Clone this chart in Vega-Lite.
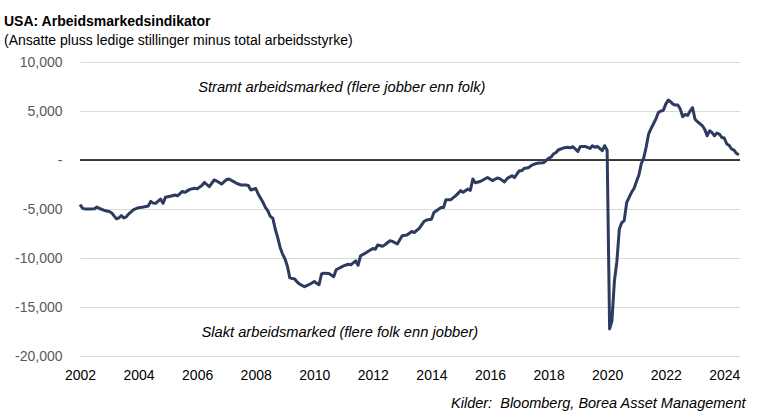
{
  "$schema": "https://vega.github.io/schema/vega-lite/v6.json",
  "width": 660,
  "height": 294,
  "autosize": {"type": "none"},
  "padding": {"left": 80, "top": 62, "right": 17, "bottom": 59},
  "background": "white",
  "config": {
    "font": "Liberation Sans",
    "view": {"stroke": null}
  },
  "title": {
    "text": "USA: Arbeidsmarkedsindikator",
    "subtitle": "(Ansatte pluss ledige stillinger minus total arbeidsstyrke)",
    "anchor": "start",
    "frame": "group",
    "dx": -76,
    "offset": 7,
    "fontSize": 14,
    "fontWeight": "bold",
    "color": "#000000",
    "subtitleFontSize": 14,
    "subtitleColor": "#000000",
    "subtitlePadding": 5
  },
  "layer": [
    {
      "data": {"values": [{"z": 0}]},
      "mark": {"type": "rule", "color": "#000000", "strokeWidth": 1.3},
      "encoding": {"y": {"field": "z", "type": "quantitative"}}
    },
    {
      "data": {
        "values": [
          {"d": "2002-01", "v": -4560}, {"d": "2002-02", "v": -4900}, {"d": "2002-03", "v": -5000},
          {"d": "2002-05", "v": -5000}, {"d": "2002-07", "v": -4980}, {"d": "2002-08", "v": -4800},
          {"d": "2002-09", "v": -4950}, {"d": "2002-11", "v": -5150}, {"d": "2003-01", "v": -5250},
          {"d": "2003-02", "v": -5400}, {"d": "2003-03", "v": -5700}, {"d": "2003-04", "v": -6000},
          {"d": "2003-05", "v": -5900}, {"d": "2003-06", "v": -5680}, {"d": "2003-07", "v": -5920},
          {"d": "2003-08", "v": -5800}, {"d": "2003-09", "v": -5500}, {"d": "2003-11", "v": -5070},
          {"d": "2004-01", "v": -4870}, {"d": "2004-03", "v": -4800}, {"d": "2004-05", "v": -4700},
          {"d": "2004-06", "v": -4220}, {"d": "2004-07", "v": -4400}, {"d": "2004-08", "v": -4420},
          {"d": "2004-10", "v": -3980}, {"d": "2004-11", "v": -4420}, {"d": "2004-12", "v": -3810},
          {"d": "2005-02", "v": -3700}, {"d": "2005-04", "v": -3570}, {"d": "2005-05", "v": -3650},
          {"d": "2005-07", "v": -3200}, {"d": "2005-08", "v": -3300}, {"d": "2005-10", "v": -3000},
          {"d": "2005-12", "v": -2890}, {"d": "2006-01", "v": -2950}, {"d": "2006-03", "v": -2600},
          {"d": "2006-04", "v": -2280}, {"d": "2006-05", "v": -2500}, {"d": "2006-06", "v": -2720},
          {"d": "2006-08", "v": -2040}, {"d": "2006-09", "v": -2150}, {"d": "2006-11", "v": -2450},
          {"d": "2007-01", "v": -2010}, {"d": "2007-02", "v": -1940}, {"d": "2007-04", "v": -2200},
          {"d": "2007-05", "v": -2350}, {"d": "2007-07", "v": -2550}, {"d": "2007-09", "v": -2550},
          {"d": "2007-10", "v": -2600}, {"d": "2007-11", "v": -3060}, {"d": "2008-01", "v": -2900},
          {"d": "2008-02", "v": -3470}, {"d": "2008-04", "v": -4320}, {"d": "2008-05", "v": -4840},
          {"d": "2008-06", "v": -5200}, {"d": "2008-07", "v": -5750}, {"d": "2008-08", "v": -5930},
          {"d": "2008-09", "v": -7040}, {"d": "2008-10", "v": -7900}, {"d": "2008-11", "v": -8920},
          {"d": "2008-12", "v": -9600}, {"d": "2009-01", "v": -10100}, {"d": "2009-02", "v": -10890},
          {"d": "2009-03", "v": -12000}, {"d": "2009-04", "v": -12100}, {"d": "2009-05", "v": -12140},
          {"d": "2009-06", "v": -12450}, {"d": "2009-07", "v": -12650}, {"d": "2009-08", "v": -12800},
          {"d": "2009-09", "v": -12930}, {"d": "2009-11", "v": -12700}, {"d": "2010-01", "v": -12400},
          {"d": "2010-02", "v": -12600}, {"d": "2010-03", "v": -12730}, {"d": "2010-04", "v": -11630},
          {"d": "2010-05", "v": -11550}, {"d": "2010-07", "v": -11570}, {"d": "2010-09", "v": -11900},
          {"d": "2010-10", "v": -11200}, {"d": "2011-01", "v": -10800}, {"d": "2011-03", "v": -10640},
          {"d": "2011-04", "v": -10700}, {"d": "2011-06", "v": -10300}, {"d": "2011-07", "v": -10740},
          {"d": "2011-08", "v": -9770}, {"d": "2011-10", "v": -9500}, {"d": "2012-01", "v": -9020},
          {"d": "2012-02", "v": -9100}, {"d": "2012-03", "v": -8670}, {"d": "2012-05", "v": -8800},
          {"d": "2012-06", "v": -8650}, {"d": "2012-08", "v": -8240}, {"d": "2012-09", "v": -8300},
          {"d": "2012-11", "v": -8570}, {"d": "2013-01", "v": -7720}, {"d": "2013-03", "v": -7650},
          {"d": "2013-05", "v": -7290}, {"d": "2013-06", "v": -7400}, {"d": "2013-08", "v": -6980},
          {"d": "2013-10", "v": -6270}, {"d": "2013-11", "v": -6120}, {"d": "2014-01", "v": -6050},
          {"d": "2014-02", "v": -5350}, {"d": "2014-05", "v": -4840}, {"d": "2014-06", "v": -4850},
          {"d": "2014-07", "v": -4050}, {"d": "2014-09", "v": -4050}, {"d": "2014-11", "v": -3640},
          {"d": "2015-01", "v": -3130}, {"d": "2015-02", "v": -3300}, {"d": "2015-04", "v": -2960},
          {"d": "2015-05", "v": -3100}, {"d": "2015-06", "v": -1940}, {"d": "2015-07", "v": -2320},
          {"d": "2015-09", "v": -2200}, {"d": "2015-12", "v": -1780}, {"d": "2016-02", "v": -2100},
          {"d": "2016-04", "v": -1840}, {"d": "2016-05", "v": -1900}, {"d": "2016-07", "v": -2240},
          {"d": "2016-08", "v": -1900}, {"d": "2016-10", "v": -1600}, {"d": "2016-11", "v": -1800},
          {"d": "2017-01", "v": -1090}, {"d": "2017-02", "v": -1100}, {"d": "2017-03", "v": -860},
          {"d": "2017-05", "v": -760}, {"d": "2017-06", "v": -550}, {"d": "2017-08", "v": -350},
          {"d": "2017-09", "v": -300}, {"d": "2017-11", "v": -280}, {"d": "2018-01", "v": 160},
          {"d": "2018-02", "v": 300}, {"d": "2018-03", "v": 610}, {"d": "2018-04", "v": 740},
          {"d": "2018-05", "v": 1020}, {"d": "2018-07", "v": 1220}, {"d": "2018-09", "v": 1290},
          {"d": "2018-10", "v": 1250}, {"d": "2018-11", "v": 1350}, {"d": "2019-01", "v": 880},
          {"d": "2019-02", "v": 1390}, {"d": "2019-04", "v": 1390}, {"d": "2019-06", "v": 1180},
          {"d": "2019-07", "v": 1460}, {"d": "2019-08", "v": 1300}, {"d": "2019-09", "v": 1400},
          {"d": "2019-11", "v": 950}, {"d": "2019-12", "v": 1460}, {"d": "2020-01", "v": 1000},
          {"d": "2020-02", "v": -17240}, {"d": "2020-03", "v": -16400}, {"d": "2020-04", "v": -12320},
          {"d": "2020-05", "v": -10400}, {"d": "2020-06", "v": -7040}, {"d": "2020-07", "v": -6400},
          {"d": "2020-08", "v": -6190}, {"d": "2020-09", "v": -4330}, {"d": "2020-10", "v": -3810},
          {"d": "2020-11", "v": -3300}, {"d": "2020-12", "v": -2900}, {"d": "2021-01", "v": -2200},
          {"d": "2021-02", "v": -1500}, {"d": "2021-03", "v": -410}, {"d": "2021-04", "v": 200},
          {"d": "2021-05", "v": 1290}, {"d": "2021-06", "v": 2650}, {"d": "2021-07", "v": 3200},
          {"d": "2021-08", "v": 3700}, {"d": "2021-09", "v": 4200}, {"d": "2021-10", "v": 4850},
          {"d": "2021-11", "v": 5000}, {"d": "2021-12", "v": 5050}, {"d": "2022-01", "v": 5700},
          {"d": "2022-02", "v": 6120}, {"d": "2022-03", "v": 5950}, {"d": "2022-04", "v": 5710},
          {"d": "2022-05", "v": 5600}, {"d": "2022-06", "v": 5610}, {"d": "2022-07", "v": 5200},
          {"d": "2022-08", "v": 4420}, {"d": "2022-09", "v": 4650}, {"d": "2022-10", "v": 4550},
          {"d": "2022-11", "v": 5000}, {"d": "2022-12", "v": 5340}, {"d": "2023-01", "v": 4160},
          {"d": "2023-02", "v": 3900}, {"d": "2023-03", "v": 3720}, {"d": "2023-04", "v": 3500},
          {"d": "2023-05", "v": 3150}, {"d": "2023-06", "v": 2470}, {"d": "2023-07", "v": 2980},
          {"d": "2023-08", "v": 2800}, {"d": "2023-09", "v": 2470}, {"d": "2023-10", "v": 2750},
          {"d": "2023-11", "v": 2650}, {"d": "2023-12", "v": 2300}, {"d": "2024-01", "v": 2250},
          {"d": "2024-02", "v": 1630}, {"d": "2024-03", "v": 1500}, {"d": "2024-04", "v": 1120},
          {"d": "2024-05", "v": 1000}, {"d": "2024-06", "v": 670}, {"d": "2024-07", "v": 540}
        ]
      },
      "mark": {"type": "line", "color": "#2c3b5f", "strokeWidth": 3, "strokeJoin": "round"},
      "encoding": {
        "x": {
          "field": "d",
          "type": "temporal",
          "scale": {
            "type": "utc",
            "domain": [
              {"year": 2002, "month": 1, "date": 1, "utc": true},
              {"year": 2024, "month": 7, "date": 15, "utc": true}
            ]
          },
          "axis": {
            "values": [
              {"year": 2002, "utc": true}, {"year": 2004, "utc": true}, {"year": 2006, "utc": true},
              {"year": 2008, "utc": true}, {"year": 2010, "utc": true}, {"year": 2012, "utc": true},
              {"year": 2014, "utc": true}, {"year": 2016, "utc": true}, {"year": 2018, "utc": true},
              {"year": 2020, "utc": true}, {"year": 2022, "utc": true}, {"year": 2024, "utc": true}
            ],
            "format": "%Y",
            "grid": false,
            "ticks": false,
            "domain": false,
            "labelFontSize": 14,
            "labelColor": "#000000",
            "labelPadding": 12,
            "labelFlush": false,
            "title": "Kilder:\u00a0 Bloomberg, Borea Asset Management",
            "titleFontSize": 14.5,
            "titleFontStyle": "italic",
            "titleFontWeight": "normal",
            "titleColor": "#000000",
            "titleAnchor": "end",
            "titleAlign": "right",
            "titleX": 665,
            "titlePadding": 14
          }
        },
        "y": {
          "field": "v",
          "type": "quantitative",
          "scale": {"domain": [-20000, 10000], "nice": false},
          "axis": {
            "values": [-20000, -15000, -10000, -5000, 0, 5000, 10000],
            "labelExpr": "datum.value == 0 ? '-' : replace(format(datum.value, ','), '\u2212', '-')",
            "grid": true,
            "gridColor": "#d9d9d9",
            "gridWidth": 1,
            "ticks": false,
            "domain": false,
            "labelFontSize": 14,
            "labelColor": "#595959",
            "labelPadding": 18,
            "title": null
          }
        }
      }
    },
    {
      "data": {
        "values": [
          {"d": "2010-12-10", "v": 7300, "label": "Stramt arbeidsmarked (flere jobber enn folk)"},
          {"d": "2010-11-15", "v": -17700, "label": "Slakt arbeidsmarked (flere folk enn jobber)"}
        ]
      },
      "mark": {"type": "text", "fontSize": 14.7, "fontStyle": "italic", "color": "#000000", "align": "center", "baseline": "middle"},
      "encoding": {
        "x": {"field": "d", "type": "temporal"},
        "y": {"field": "v", "type": "quantitative"},
        "text": {"field": "label"}
      }
    }
  ]
}
